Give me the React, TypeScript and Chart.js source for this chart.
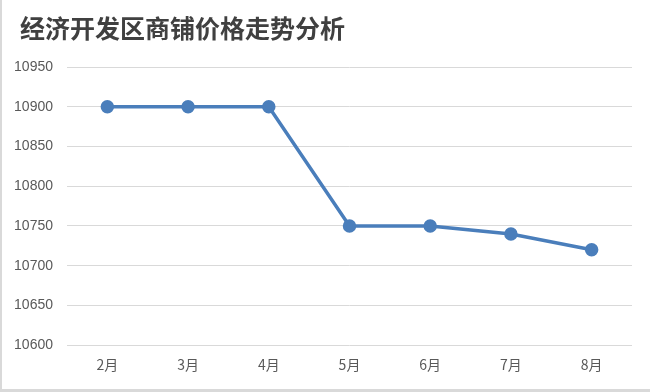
import React, { useEffect, useRef } from "react";
import { Chart, registerables } from "chart.js";

Chart.register(...registerables);

const titleText = "经济开发区商铺价格走势分析";
const months = ["2月", "3月", "4月", "5月", "6月", "7月", "8月"];
const prices = [10900, 10900, 10900, 10750, 10750, 10740, 10720];
const yMin = 10600;
const yMax = 10950;
const yStep = 50;

const framePlugin = {
  id: "frame",
  beforeDraw(chart: any) {
    const { ctx, width, height } = chart;
    ctx.save();
    ctx.fillStyle = "#ffffff";
    ctx.fillRect(0, 0, width, height);
    ctx.fillStyle = "#d9d9d9";
    ctx.fillRect(0, 0, 2, height);
    ctx.fillRect(0, height - 3, width, 3);
    ctx.restore();
  },
  afterDraw(chart: any) {
    const { ctx } = chart;
    ctx.save();
    ctx.fillStyle = "#404040";
    ctx.font = "bold 25px 'Noto Sans CJK SC', sans-serif";
    ctx.textAlign = "left";
    ctx.textBaseline = "middle";
    ctx.fillText(titleText, 20, 28);
    ctx.restore();
  },
};

export default function App() {
  const ref = useRef<HTMLCanvasElement>(null);
  useEffect(() => {
    if (!ref.current) return;
    const chart = new Chart(ref.current, {
      type: "line",
      data: {
        labels: months,
        datasets: [
          {
            data: prices,
            borderColor: "#4a7ebb",
            backgroundColor: "#4a7ebb",
            borderWidth: 3.5,
            pointRadius: 5,
            pointHoverRadius: 5,
            pointBackgroundColor: "#4a7ebb",
            pointBorderColor: "#4a7ebb",
            tension: 0,
          },
        ],
      },
      options: {
        animation: false,
        responsive: false,
        layout: { padding: { left: 0, right: 18, top: 67, bottom: 8 } },
        plugins: {
          legend: { display: false },
          tooltip: { enabled: false },
          title: { display: false },
        },
        scales: {
          x: {
            offset: true,
            grid: { display: false, drawTicks: false },
            border: { display: false },
            ticks: {
              color: "#595959",
              padding: 11,
              font: { family: "'Noto Sans CJK SC', sans-serif", size: 14 },
            },
          },
          y: {
            min: yMin,
            max: yMax,
            grid: { color: "#d9d9d9", lineWidth: 1, drawTicks: false },
            border: { display: false },
            afterFit(scale: any) {
              scale.width = 67;
            },
            ticks: {
              stepSize: yStep,
              color: "#595959",
              padding: 14,
              font: { family: "'Liberation Sans', sans-serif", size: 14 },
              callback: (v: any) => String(v),
            },
          },
        },
      },
      plugins: [framePlugin],
    });
    return () => chart.destroy();
  }, []);
  return (
    <div style={{ position: "fixed", left: 0, top: 0, width: 650, height: 392, background: "#fff" }}>
      <canvas ref={ref} width={650} height={392} style={{ display: "block", width: 650, height: 392 }} />
    </div>
  );
}
